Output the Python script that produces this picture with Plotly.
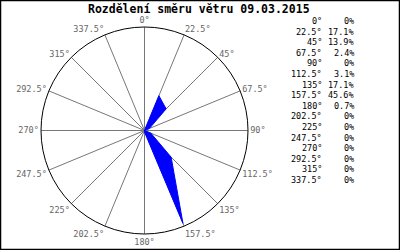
import plotly.graph_objects as go

title = "Rozdělení směru větru 09.03.2015"
directions = [0, 22.5, 45, 67.5, 90, 112.5, 135, 157.5, 180, 202.5, 225, 247.5, 270, 292.5, 315, 337.5]
dir_labels = ["0°", "22.5°", "45°", "67.5°", "90°", "112.5°", "135°", "157.5°", "180°",
              "202.5°", "225°", "247.5°", "270°", "292.5°", "315°", "337.5°"]
percent = [0, 17.1, 13.9, 2.4, 0, 3.1, 17.1, 45.6, 0.7, 0, 0, 0, 0, 0, 0, 0]
pct_labels = ["0%", "17.1%", "13.9%", "2.4%", "0%", "3.1%", "17.1%", "45.6%", "0.7%",
              "0%", "0%", "0%", "0%", "0%", "0%", "0%"]

W, H = 400, 250
MONO = "DejaVu Sans Mono"

fig = go.Figure()
fig.add_trace(go.Scatterpolar(
    r=percent + percent[:1],
    theta=directions + directions[:1],
    mode="lines",
    fill="toself",
    fillcolor="#0000ff",
    line=dict(color="#0000ff", width=1),
    hoverinfo="skip",
))

# square domain in pixels: x 41..248, y 27..234
x0, x1 = 41, 248
y0, y1 = 27, 234
fig.update_layout(
    width=W, height=H,
    margin=dict(l=0, r=0, t=0, b=0),
    paper_bgcolor="white",
    showlegend=False,
    polar=dict(
        domain=dict(x=[x0 / W, x1 / W], y=[(H - y1) / H, (H - y0) / H]),
        bgcolor="white",
        radialaxis=dict(visible=False, range=[0, 47], showgrid=False),
        angularaxis=dict(
            rotation=90, direction="clockwise",
            tickmode="array", tickvals=directions, ticktext=dir_labels,
            showgrid=True, gridcolor="#777777", gridwidth=1,
            showline=True, linecolor="black", linewidth=1,
            ticks="", tickfont=dict(family=MONO, size=8.5, color="#666666"),
        ),
    ),
)

annotations = [dict(
    text="<b>" + title + "</b>", x=199 / W, y=1 - 9 / H, xref="paper", yref="paper",
    xanchor="center", yanchor="middle", showarrow=False,
    font=dict(family=MONO, size=11.5, color="black"),
)]
row0, step = 21, 10.6
for i, (d, p) in enumerate(zip(dir_labels, pct_labels)):
    yy = 1 - (row0 + i * step) / H
    annotations.append(dict(text=d, x=324 / W, y=yy, xref="paper", yref="paper",
                            xanchor="right", yanchor="middle", showarrow=False,
                            font=dict(family=MONO, size=8.5, color="black")))
    annotations.append(dict(text=p, x=356 / W, y=yy, xref="paper", yref="paper",
                            xanchor="right", yanchor="middle", showarrow=False,
                            font=dict(family=MONO, size=8.5, color="black")))
fig.update_layout(annotations=annotations)

fig.add_shape(type="rect", xref="paper", yref="paper", x0=0.5 / W, y0=0.5 / H,
              x1=1 - 0.5 / W, y1=1 - 0.5 / H, line=dict(color="black", width=1.5))

fig.write_html("out.html")
